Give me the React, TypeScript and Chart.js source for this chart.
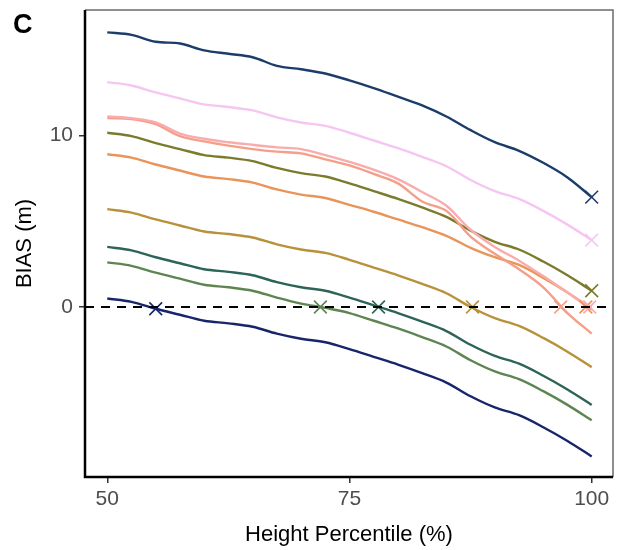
import React, { useEffect, useRef } from "react";
import { Chart, registerables } from "chart.js";

Chart.register(...registerables);

const pct = [50, 52.5, 55, 57.5, 60, 62.5, 65, 67.5, 70, 72.5, 75, 77.5, 80, 82.5, 85, 87.5, 90, 92.5, 95, 97.5, 100];

const sBlue = [16.0, 15.85, 15.45, 15.35, 14.95, 14.75, 14.55, 14.05, 13.85, 13.6, 13.2, 12.75, 12.25, 11.75, 11.1, 10.3, 9.6, 9.1, 8.4, 7.55, 6.4];
const sLilac = [13.1, 12.9, 12.5, 12.15, 11.8, 11.65, 11.45, 11.05, 10.75, 10.55, 10.15, 9.7, 9.25, 8.75, 8.2, 7.4, 6.75, 6.3, 5.6, 4.8, 3.9];
const sPink = [11.1, 11.0, 10.75, 10.1, 9.8, 9.6, 9.45, 9.3, 9.2, 8.85, 8.45, 8.0, 7.45, 6.7, 5.9, 4.5, 3.5, 2.7, 1.8, 0.85, -0.05];
const sSalmon = [11.0, 10.95, 10.65, 9.95, 9.65, 9.4, 9.2, 9.05, 8.95, 8.6, 8.25, 7.75, 7.2, 6.15, 5.6, 4.1, 3.1, 2.2, 1.15, -0.35, -1.55];
const sOlive = [10.15, 9.95, 9.55, 9.2, 8.85, 8.7, 8.5, 8.1, 7.8, 7.6, 7.2, 6.75, 6.3, 5.8, 5.25, 4.45, 3.8, 3.35, 2.65, 1.85, 0.95];
const sOrange = [8.9, 8.7, 8.3, 7.95, 7.6, 7.45, 7.25, 6.85, 6.55, 6.35, 5.95, 5.55, 5.1, 4.65, 4.15, 3.45, 2.9, 2.45, 1.7, 0.85, -0.15];
const sGold = [5.7, 5.5, 5.1, 4.75, 4.4, 4.25, 4.05, 3.65, 3.35, 3.15, 2.75, 2.3, 1.85, 1.35, 0.8, 0.0, -0.65, -1.1, -1.8, -2.6, -3.5];
const sTeal = [3.5, 3.3, 2.9, 2.55, 2.2, 2.05, 1.85, 1.45, 1.15, 0.95, 0.55, 0.1, -0.35, -0.85, -1.4, -2.2, -2.85, -3.3, -4.0, -4.8, -5.7];
const sGreen = [2.6, 2.4, 2.0, 1.65, 1.3, 1.15, 0.95, 0.55, 0.2, -0.05, -0.35, -0.8, -1.25, -1.75, -2.3, -3.1, -3.75, -4.2, -4.9, -5.7, -6.6];
const sNavy = [0.5, 0.3, -0.1, -0.45, -0.8, -0.95, -1.15, -1.55, -1.85, -2.05, -2.45, -2.9, -3.35, -3.85, -4.4, -5.2, -5.85, -6.3, -7.0, -7.8, -8.7];

const seriesValues = [sBlue, sLilac, sPink, sSalmon, sOlive, sOrange, sGold, sTeal, sGreen, sNavy];
const seriesColors = ["#1c3c6a", "#f6c6f2", "#f9acae", "#f59f88", "#7a7c2c", "#e99459", "#b8913b", "#2d6458", "#5e8551", "#17256b"];

// X markers: where each curve reaches zero bias (or its end point)
const markerX = [100, 100, 99.8, 96.8, 100, 99.4, 87.7, 78.0, 72.0, 55.0];
const markerY = [6.4, 3.9, 0.0, 0.0, 0.95, 0.0, 0.0, 0.0, 0.0, -0.1];

const xTicks = [50, 75, 100];
const yTicks = [0, 10];
const xRange = [47.7, 102.2];
const yRange = [-9.9, 17.3];

const FONT = "'Liberation Sans', Arial, Helvetica, sans-serif";

const framePlugin = {
  id: "frame",
  afterDraw(chart: any) {
    const { ctx, chartArea } = chart;
    const { left, right, top, bottom } = chartArea;
    ctx.save();
    ctx.strokeStyle = "#6b6b6b";
    ctx.lineWidth = 1.5;
    ctx.beginPath();
    ctx.moveTo(left, top);
    ctx.lineTo(right, top);
    ctx.lineTo(right, bottom);
    ctx.stroke();
    ctx.strokeStyle = "#000";
    ctx.lineWidth = 2.5;
    ctx.beginPath();
    ctx.moveTo(left, top);
    ctx.lineTo(left, bottom);
    ctx.lineTo(right, bottom);
    ctx.stroke();
    ctx.fillStyle = "#000";
    ctx.font = `bold 27px ${FONT}`;
    ctx.textAlign = "left";
    ctx.textBaseline = "alphabetic";
    ctx.fillText("C", 13, 33);
    ctx.restore();
  },
};

export default function App() {
  const ref = useRef<HTMLCanvasElement>(null);
  useEffect(() => {
    if (!ref.current) return;
    const datasets: any[] = [];
    datasets.push({
      type: "line",
      data: [
        { x: xRange[0], y: 0 },
        { x: xRange[1], y: 0 },
      ],
      borderColor: "#000",
      borderWidth: 2,
      borderDash: [9, 7],
      pointRadius: 0,
      order: 0,
    });
    seriesValues.forEach((vals, i) => {
      datasets.push({
        type: "line",
        data: pct.map((p, j) => ({ x: p, y: vals[j] })),
        borderColor: seriesColors[i],
        borderWidth: 2.4,
        pointRadius: 0,
        tension: 0.35,
        fill: false,
        order: 2,
      });
      datasets.push({
        type: "scatter",
        data: [{ x: markerX[i], y: markerY[i] }],
        borderColor: seriesColors[i],
        backgroundColor: seriesColors[i],
        pointStyle: "crossRot",
        pointRadius: 9,
        borderWidth: 1.6,
        order: 1,
      });
    });
    const chart = new Chart(ref.current, {
      type: "line",
      data: { datasets },
      options: {
        animation: false,
        responsive: false,
        events: [],
        layout: { autoPadding: false, padding: { left: 0, top: 10, right: 5, bottom: 0 } },
        plugins: { legend: { display: false }, tooltip: { enabled: false } },
        scales: {
          x: {
            type: "linear",
            min: xRange[0],
            max: xRange[1],
            afterBuildTicks: (s: any) => {
              s.ticks = xTicks.map((v) => ({ value: v }));
            },
            afterFit: (s: any) => {
              s.height = 73;
              s.paddingLeft = 0;
              s.paddingRight = 0;
            },
            grid: { drawOnChartArea: false, drawTicks: true, tickLength: 6, color: "#333", lineWidth: 1.5 },
            border: { display: false },
            ticks: { color: "#4d4d4d", font: { family: FONT, size: 21 }, padding: 4, maxRotation: 0 },
            title: { display: true, text: "Height Percentile (%)", color: "#000", font: { family: FONT, size: 22 }, padding: { top: 0, bottom: 2 } },
          },
          y: {
            type: "linear",
            min: yRange[0],
            max: yRange[1],
            afterBuildTicks: (s: any) => {
              s.ticks = yTicks.map((v) => ({ value: v }));
            },
            afterFit: (s: any) => {
              s.width = 85;
              s.paddingTop = 0;
              s.paddingBottom = 0;
            },
            grid: { drawOnChartArea: false, drawTicks: true, tickLength: 6, color: "#333", lineWidth: 1.5 },
            border: { display: false },
            ticks: { color: "#4d4d4d", font: { family: FONT, size: 21 }, padding: 6 },
            title: { display: true, text: "BIAS (m)", color: "#000", font: { family: FONT, size: 22 }, padding: { top: 12, bottom: 0 } },
          },
        },
      },
      plugins: [framePlugin],
    } as any);
    return () => chart.destroy();
  }, []);
  return (
    <div style={{ position: "fixed", left: 0, top: 0, width: 618, height: 550, background: "#fff" }}>
      <canvas ref={ref} width={618} height={550} />
    </div>
  );
}
